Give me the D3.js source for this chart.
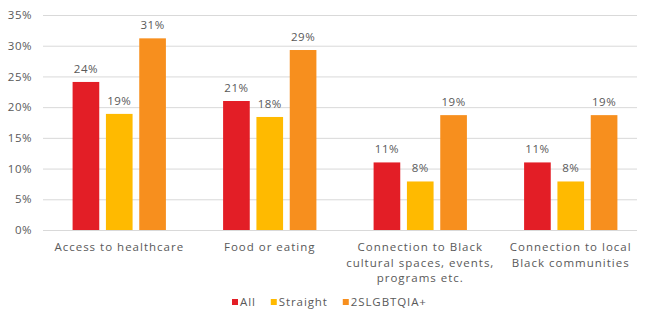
<!DOCTYPE html>
<html><head><meta charset="utf-8">
<script src="https://cdn.jsdelivr.net/npm/d3@7"></script>
<style>html,body{margin:0;padding:0;background:#fff;}svg{display:block;font-family:"Open Sans",sans-serif;letter-spacing:0.5px;}</style>
</head><body>
<svg id="chart" width="647" height="313"></svg>
<script>
const categories = [
  ["Access to healthcare"],
  ["Food or eating"],
  ["Connection to Black", "cultural spaces, events,", "programs etc."],
  ["Connection to local", "Black communities"]
];
const seriesNames = ["All", "Straight", "2SLGBTQIA+"];
const seriesColors = ["#E31E26", "#FFBA00", "#F78F1E"];
const allValues = [0.241, 0.21, 0.11, 0.11];
const straightValues = [0.189, 0.184, 0.079, 0.079];
const lgbtValues = [0.312, 0.293, 0.187, 0.187];
const yTicks = [0, 0.05, 0.10, 0.15, 0.20, 0.25, 0.30, 0.35];

const series = [allValues, straightValues, lgbtValues];
const svg = d3.select("#chart");
const textColor = "#595959";
const font = "'Open Sans', sans-serif";

const y = d3.scaleLinear().domain([0, 0.35]).range([230, 15]);
const x0 = d3.scaleBand().domain(d3.range(categories.length)).range([44, 646]).paddingInner(0.38).paddingOuter(0.19);
const x1 = d3.scaleBand().domain(d3.range(seriesNames.length)).range([0, x0.bandwidth()]).paddingInner(0.2);

// grid
const yAxis = d3.axisLeft(y).tickValues(yTicks).tickFormat(d3.format(".0%")).tickSize(-(637 - 43)).tickPadding(11);
const gy = svg.append("g").attr("transform", "translate(43,0)").call(yAxis);
gy.select(".domain").remove();
gy.selectAll(".tick line").attr("stroke", "#d9d9d9").attr("stroke-width", 1);
gy.selectAll(".tick text").attr("fill", textColor).style("font-size", "11.5px").style("font-family", font);

// bars
const groups = svg.append("g").selectAll("g").data(categories).join("g")
  .attr("transform", (d, i) => `translate(${x0(i)},0)`);
groups.each(function(d, i) {
  const g = d3.select(this);
  series.forEach((vals, s) => {
    g.append("rect")
      .attr("x", x1(s)).attr("y", y(vals[i]))
      .attr("width", x1.bandwidth()).attr("height", y(0) - y(vals[i]))
      .attr("fill", seriesColors[s]);
    g.append("text")
      .attr("x", x1(s) + x1.bandwidth() / 2).attr("y", y(vals[i]) - 9)
      .attr("text-anchor", "middle").attr("fill", textColor)
      .style("font-size", "11.5px")
      .text(Math.round(vals[i] * 100) + "%");
  });
});

// x labels
categories.forEach((lines, i) => {
  lines.forEach((ln, k) => {
    svg.append("text").attr("text-anchor", "middle").attr("fill", textColor)
      .style("font-size", "11.5px").style("letter-spacing", "1px")
      .attr("x", x0(i) + x0.bandwidth() / 2).attr("y", 251 + k * 15.5).text(ln);
  });
});

// legend
const legend = svg.append("g");
let lx = 232;
seriesNames.forEach((name, s) => {
  legend.append("rect").attr("x", lx).attr("y", 299).attr("width", 6).attr("height", 6).attr("fill", seriesColors[s]);
  const t = legend.append("text").attr("x", lx + 8).attr("y", 305.5).attr("fill", textColor)
    .style("font-size", "11.5px").style("letter-spacing", "0.9px").text(name);
  lx += 8 + t.node().getComputedTextLength() + 15;
});
</script>
</body></html>
